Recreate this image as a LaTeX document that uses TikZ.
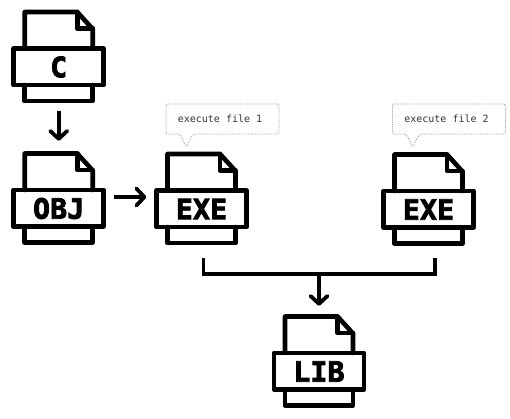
\documentclass[tikz,border=0pt]{standalone}
\usepackage{fontspec}
\usetikzlibrary{arrows.meta}
\newfontfamily\iconfont{DejaVu Sans Mono Bold}[FakeBold=3,LetterSpace=1]
\newfontfamily\notefont{DejaVu Sans Mono}
\tikzset{
  iconline/.style={line width=4.6pt,line join=round,line cap=round,black},
  iconbox/.style={inner sep=0pt,minimum width=94pt,minimum height=94pt},
  iconlabel/.style={inner sep=0pt,font=\iconfont\fontsize{28}{28}\selectfont},
  flow/.style={line width=3.8pt,black,-{Straight Barb[length=8pt,width=17pt,line width=3.8pt,round]}},
  bus/.style={line width=3.6pt,black,line join=miter},
  notebox/.style={draw=black!40,densely dotted,line width=0.8pt,rounded corners=2pt},
  notetext/.style={inner sep=0pt,text=black!80,font=\notefont\fontsize{10}{12}\selectfont},
}
\newcommand{\fileicon}[4]{%
  \begin{scope}[shift={(#2,#3)}]
    \draw[iconline] (-34,39) -- (-34,2.5) -- (18.5,2.5) -- (34,19.5) -- (34,39);
    \draw[iconline] (18.5,2.5) -- (18.5,19) -- (34,19);
    \draw[iconline] (-45,39) rectangle (45,75.5);
    \draw[iconline] (-34,75.5) -- (-34,91.5) -- (34,91.5) -- (34,75.5);
    \node[iconbox] (#1) at (0,47) {};
    \node[iconlabel] (#1-label) at (0,57.5) {#4};
  \end{scope}}
\newcommand{\notecallout}[3]{%
  \begin{scope}[shift={(#2,0)}]
    \draw[notebox] (0,104) -- (113,104) -- (113,134) -- (27,134) -- (20,147) -- (14,134) -- (0,134) -- cycle;
    \node[notetext] (#1) at (54,119) {#3};
  \end{scope}}
\begin{document}
\begin{tikzpicture}[x=1pt,y=-1pt]
  \useasboundingbox (0,0) rectangle (510,419);
  \fileicon{c}{58.7}{9.5}{C}
  \fileicon{obj}{58.7}{151}{OBJ}
  \fileicon{exeone}{201.5}{151.5}{EXE}
  \fileicon{exetwo}{428.5}{152}{EXE}
  \fileicon{lib}{319}{314}{LIB}
  \notecallout{noteone}{166}{execute file 1}
  \notecallout{notetwo}{392.5}{execute file 2}
  \draw[flow,shorten >=10pt,shorten <=7pt] (c) -- (obj);
  \coordinate (objout) at (114,197);
  \draw[flow,shorten >=8pt] (objout) -- (objout -| exeone.west);
  \coordinate (busl) at (203.5,258);
  \coordinate (busr) at (435,258);
  \coordinate (busm) at (319,274);
  \draw[bus] (busl) |- (busm) -| (busr);
  \draw[flow,shorten >=8pt] (busm) -- (lib);
\end{tikzpicture}
\end{document}
